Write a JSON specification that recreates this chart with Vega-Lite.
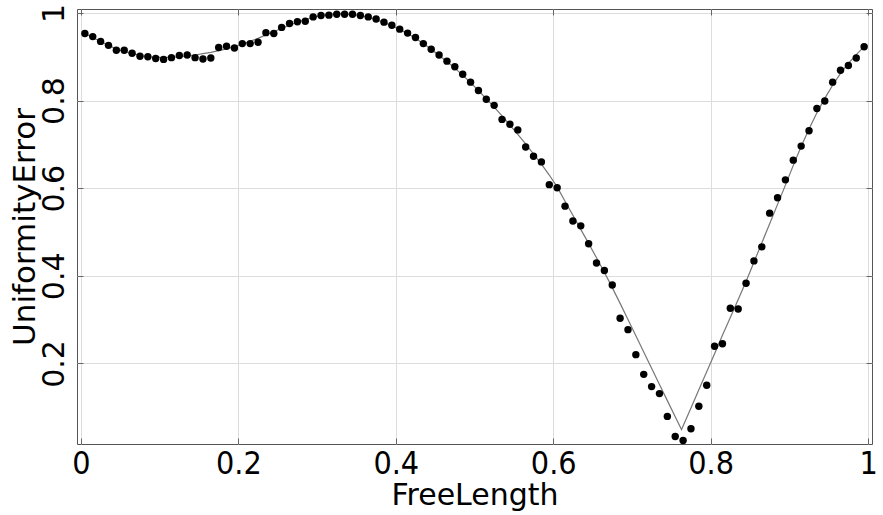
{
  "$schema": "https://vega.github.io/schema/vega-lite/v6.json",
  "autosize": {"type": "none"},
  "width": 795,
  "height": 435,
  "padding": {"left": 77, "top": 9, "right": 11, "bottom": 71},
  "background": "white",
  "config": {
    "view": {"stroke": "#555", "strokeWidth": 1},
    "font": "DejaVu Sans"
  },
  "datasets": {
    "points": [
      {"x": 0.005, "y": 0.953}, {"x": 0.015, "y": 0.946}, {"x": 0.025, "y": 0.935}, {"x": 0.035, "y": 0.926}, {"x": 0.045, "y": 0.915},
      {"x": 0.055, "y": 0.915}, {"x": 0.065, "y": 0.908}, {"x": 0.075, "y": 0.901}, {"x": 0.085, "y": 0.900}, {"x": 0.095, "y": 0.896},
      {"x": 0.105, "y": 0.894}, {"x": 0.115, "y": 0.898}, {"x": 0.125, "y": 0.903}, {"x": 0.135, "y": 0.904}, {"x": 0.145, "y": 0.898},
      {"x": 0.155, "y": 0.895}, {"x": 0.165, "y": 0.897}, {"x": 0.175, "y": 0.921}, {"x": 0.185, "y": 0.924}, {"x": 0.195, "y": 0.920},
      {"x": 0.205, "y": 0.930}, {"x": 0.215, "y": 0.930}, {"x": 0.225, "y": 0.933}, {"x": 0.235, "y": 0.955}, {"x": 0.245, "y": 0.953},
      {"x": 0.255, "y": 0.967}, {"x": 0.265, "y": 0.976}, {"x": 0.275, "y": 0.980}, {"x": 0.285, "y": 0.981}, {"x": 0.295, "y": 0.991},
      {"x": 0.305, "y": 0.994}, {"x": 0.315, "y": 0.995}, {"x": 0.325, "y": 0.997}, {"x": 0.335, "y": 0.997}, {"x": 0.345, "y": 0.997},
      {"x": 0.355, "y": 0.994}, {"x": 0.365, "y": 0.991}, {"x": 0.375, "y": 0.986}, {"x": 0.385, "y": 0.979}, {"x": 0.395, "y": 0.972},
      {"x": 0.405, "y": 0.963}, {"x": 0.415, "y": 0.954}, {"x": 0.425, "y": 0.944}, {"x": 0.435, "y": 0.930}, {"x": 0.445, "y": 0.917},
      {"x": 0.455, "y": 0.904}, {"x": 0.465, "y": 0.890}, {"x": 0.475, "y": 0.877}, {"x": 0.485, "y": 0.860}, {"x": 0.495, "y": 0.842},
      {"x": 0.505, "y": 0.823}, {"x": 0.515, "y": 0.803}, {"x": 0.525, "y": 0.789}, {"x": 0.535, "y": 0.757}, {"x": 0.545, "y": 0.746},
      {"x": 0.555, "y": 0.733}, {"x": 0.565, "y": 0.694}, {"x": 0.575, "y": 0.673}, {"x": 0.585, "y": 0.660}, {"x": 0.595, "y": 0.608},
      {"x": 0.605, "y": 0.601}, {"x": 0.615, "y": 0.559}, {"x": 0.625, "y": 0.525}, {"x": 0.635, "y": 0.514}, {"x": 0.645, "y": 0.473},
      {"x": 0.655, "y": 0.429}, {"x": 0.665, "y": 0.412}, {"x": 0.675, "y": 0.379}, {"x": 0.685, "y": 0.303}, {"x": 0.695, "y": 0.277},
      {"x": 0.705, "y": 0.220}, {"x": 0.715, "y": 0.175}, {"x": 0.725, "y": 0.147}, {"x": 0.735, "y": 0.131}, {"x": 0.745, "y": 0.079},
      {"x": 0.755, "y": 0.033}, {"x": 0.765, "y": 0.024}, {"x": 0.775, "y": 0.051}, {"x": 0.785, "y": 0.102}, {"x": 0.795, "y": 0.150},
      {"x": 0.805, "y": 0.239}, {"x": 0.815, "y": 0.245}, {"x": 0.825, "y": 0.326}, {"x": 0.835, "y": 0.324}, {"x": 0.845, "y": 0.383},
      {"x": 0.855, "y": 0.434}, {"x": 0.865, "y": 0.466}, {"x": 0.875, "y": 0.543}, {"x": 0.885, "y": 0.578}, {"x": 0.895, "y": 0.619},
      {"x": 0.905, "y": 0.664}, {"x": 0.915, "y": 0.696}, {"x": 0.925, "y": 0.731}, {"x": 0.935, "y": 0.782}, {"x": 0.945, "y": 0.799},
      {"x": 0.955, "y": 0.842}, {"x": 0.965, "y": 0.869}, {"x": 0.975, "y": 0.880}, {"x": 0.985, "y": 0.897}, {"x": 0.995, "y": 0.923}
    ],
    "fit": [
      {"x": 0.005, "y": 0.953}, {"x": 0.015, "y": 0.944}, {"x": 0.025, "y": 0.935}, {"x": 0.035, "y": 0.926}, {"x": 0.045, "y": 0.918},
      {"x": 0.055, "y": 0.912}, {"x": 0.065, "y": 0.907}, {"x": 0.075, "y": 0.903}, {"x": 0.085, "y": 0.900}, {"x": 0.095, "y": 0.899},
      {"x": 0.105, "y": 0.898}, {"x": 0.115, "y": 0.899}, {"x": 0.125, "y": 0.900}, {"x": 0.135, "y": 0.902}, {"x": 0.145, "y": 0.904},
      {"x": 0.155, "y": 0.907}, {"x": 0.165, "y": 0.910}, {"x": 0.175, "y": 0.914}, {"x": 0.185, "y": 0.918}, {"x": 0.195, "y": 0.923},
      {"x": 0.205, "y": 0.929}, {"x": 0.215, "y": 0.935}, {"x": 0.225, "y": 0.942}, {"x": 0.235, "y": 0.950}, {"x": 0.245, "y": 0.957},
      {"x": 0.255, "y": 0.965}, {"x": 0.265, "y": 0.972}, {"x": 0.275, "y": 0.979}, {"x": 0.285, "y": 0.985}, {"x": 0.295, "y": 0.990},
      {"x": 0.305, "y": 0.994}, {"x": 0.315, "y": 0.997}, {"x": 0.325, "y": 0.998}, {"x": 0.335, "y": 0.998}, {"x": 0.345, "y": 0.997},
      {"x": 0.355, "y": 0.994}, {"x": 0.365, "y": 0.990}, {"x": 0.375, "y": 0.985}, {"x": 0.385, "y": 0.978}, {"x": 0.395, "y": 0.971},
      {"x": 0.405, "y": 0.962}, {"x": 0.415, "y": 0.953}, {"x": 0.425, "y": 0.942}, {"x": 0.435, "y": 0.930}, {"x": 0.445, "y": 0.917},
      {"x": 0.455, "y": 0.903}, {"x": 0.465, "y": 0.889}, {"x": 0.475, "y": 0.874}, {"x": 0.485, "y": 0.858}, {"x": 0.495, "y": 0.841},
      {"x": 0.505, "y": 0.823}, {"x": 0.515, "y": 0.804}, {"x": 0.525, "y": 0.785}, {"x": 0.535, "y": 0.765}, {"x": 0.545, "y": 0.744},
      {"x": 0.555, "y": 0.723}, {"x": 0.565, "y": 0.701}, {"x": 0.575, "y": 0.678}, {"x": 0.585, "y": 0.655}, {"x": 0.595, "y": 0.630},
      {"x": 0.605, "y": 0.603}, {"x": 0.615, "y": 0.570}, {"x": 0.625, "y": 0.538}, {"x": 0.635, "y": 0.506}, {"x": 0.645, "y": 0.474},
      {"x": 0.655, "y": 0.441}, {"x": 0.665, "y": 0.408}, {"x": 0.675, "y": 0.373}, {"x": 0.685, "y": 0.337}, {"x": 0.695, "y": 0.300},
      {"x": 0.705, "y": 0.263}, {"x": 0.715, "y": 0.226}, {"x": 0.725, "y": 0.189}, {"x": 0.735, "y": 0.152}, {"x": 0.745, "y": 0.115},
      {"x": 0.755, "y": 0.078}, {"x": 0.763, "y": 0.049}, {"x": 0.765, "y": 0.057}, {"x": 0.775, "y": 0.098}, {"x": 0.785, "y": 0.140},
      {"x": 0.795, "y": 0.181}, {"x": 0.805, "y": 0.222}, {"x": 0.815, "y": 0.264}, {"x": 0.825, "y": 0.305}, {"x": 0.835, "y": 0.346},
      {"x": 0.845, "y": 0.387}, {"x": 0.855, "y": 0.431}, {"x": 0.865, "y": 0.475}, {"x": 0.875, "y": 0.519}, {"x": 0.885, "y": 0.563},
      {"x": 0.895, "y": 0.607}, {"x": 0.905, "y": 0.652}, {"x": 0.915, "y": 0.695}, {"x": 0.925, "y": 0.735}, {"x": 0.935, "y": 0.772},
      {"x": 0.945, "y": 0.805}, {"x": 0.955, "y": 0.835}, {"x": 0.965, "y": 0.862}, {"x": 0.975, "y": 0.885}, {"x": 0.985, "y": 0.905},
      {"x": 0.995, "y": 0.923}
    ]
  },
  "layer": [
    {
      "data": {"name": "fit"},
      "mark": {"type": "line", "color": "#777", "strokeWidth": 1.2},
      "encoding": {
        "x": {
          "field": "x", "type": "quantitative",
          "scale": {"domain": [-0.005, 1.005], "nice": false, "zero": false},
          "axis": {"orient": "top", "values": [0, 0.2, 0.4, 0.6, 0.8, 1], "labels": false, "title": null, "grid": false, "domain": false, "tickSize": -6, "tickColor": "#666", "tickWidth": 1}
        },
        "y": {
          "field": "y", "type": "quantitative",
          "scale": {"domain": [0.016, 1.009], "nice": false, "zero": false},
          "axis": {"orient": "right", "values": [0.2, 0.4, 0.6, 0.8, 1], "labels": false, "title": null, "grid": false, "domain": false, "tickSize": -6, "tickColor": "#666", "tickWidth": 1}
        }
      }
    },
    {
      "data": {"name": "points"},
      "mark": {"type": "point", "filled": true, "color": "#000", "opacity": 1, "size": 55},
      "encoding": {
        "x": {
          "field": "x", "type": "quantitative",
          "scale": {"domain": [-0.005, 1.005], "nice": false, "zero": false},
          "axis": {
            "orient": "bottom", "values": [0, 0.2, 0.4, 0.6, 0.8, 1], "format": "~g",
            "labelFont": "DejaVu Sans Condensed, DejaVu Sans", "labelFontSize": 32, "labelColor": "#000", "labelFlush": false, "labelOverlap": false,
            "labelPadding": 10, "tickSize": -6, "tickColor": "#666", "tickWidth": 1, "domain": false,
            "grid": true, "gridColor": "#dcdcdc", "gridWidth": 1,
            "title": "FreeLength", "titleFont": "DejaVu Sans", "titleFontSize": 30, "titleFontWeight": "normal", "titleColor": "#000", "titlePadding": 1
          }
        },
        "y": {
          "field": "y", "type": "quantitative",
          "scale": {"domain": [0.016, 1.009], "nice": false, "zero": false},
          "axis": {
            "orient": "left", "values": [0.2, 0.4, 0.6, 0.8, 1], "format": "~g",
            "labelFont": "DejaVu Sans", "labelFontSize": 30, "labelColor": "#000", "labelFlush": false, "labelOverlap": false,
            "labelAngle": -90, "labelPadding": 14, "tickSize": -6, "tickColor": "#666", "tickWidth": 1, "domain": false,
            "grid": true, "gridColor": "#dcdcdc", "gridWidth": 1,
            "title": "UniformityError", "titleFont": "DejaVu Sans", "titleFontSize": 31, "titleFontWeight": "normal", "titleColor": "#000", "titlePadding": -2
          }
        }
      }
    }
  ],
  "resolve": {"axis": {"x": "independent", "y": "independent"}}
}
